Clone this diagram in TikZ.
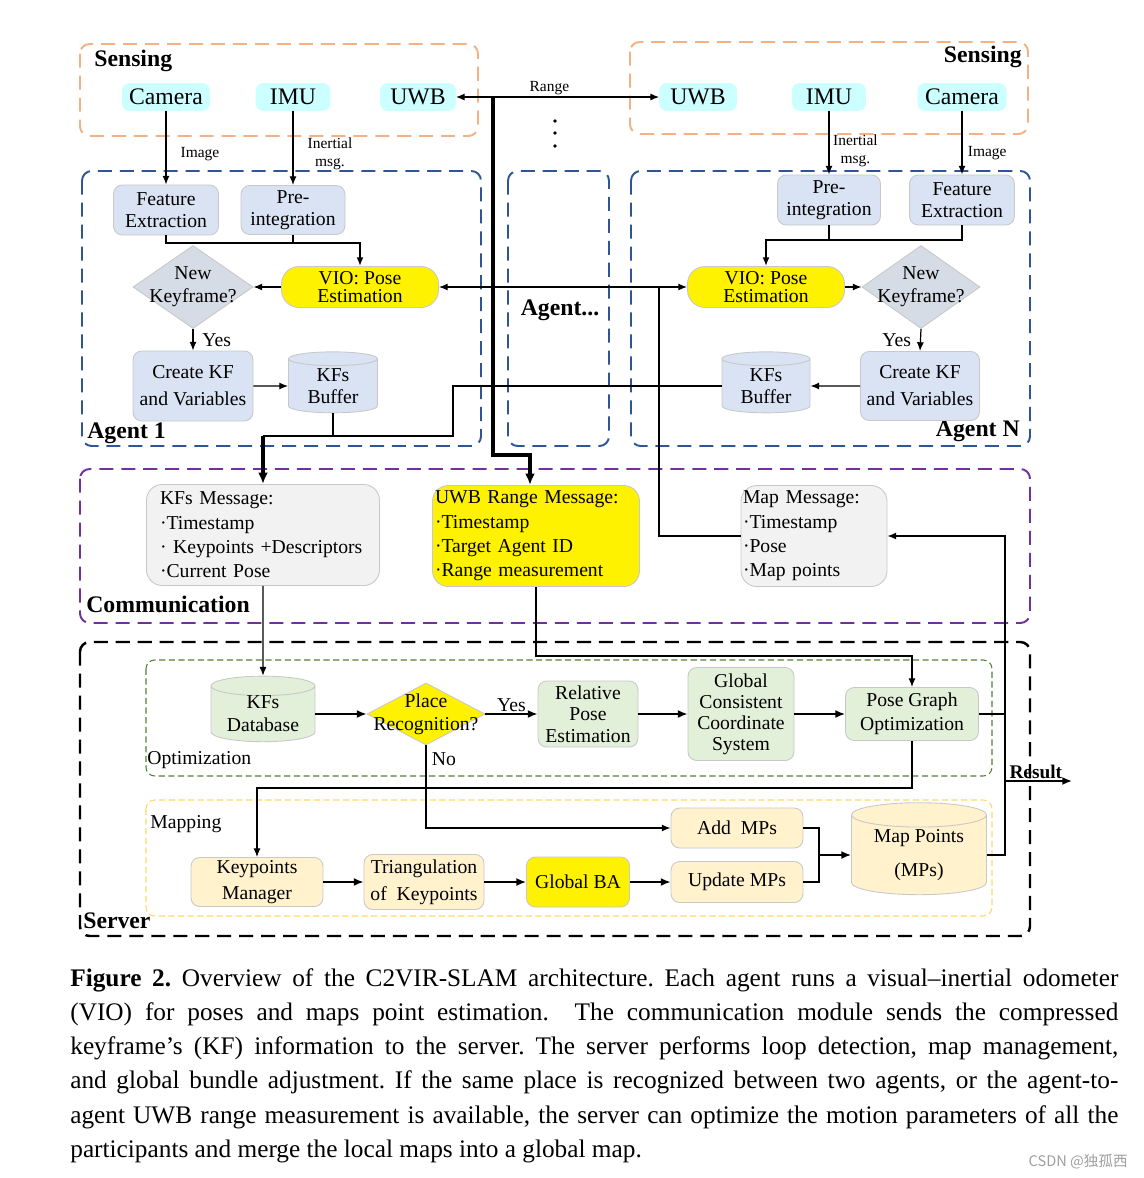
\documentclass[tikz,border=0pt]{standalone}
\usepackage{fontspec}
\setmainfont{Liberation Serif}
\newfontfamily\cjkfont{Noto Sans CJK SC}
\usetikzlibrary{shapes.geometric,arrows.meta,calc}
\definecolor{orangeD}{HTML}{F4B183}
\definecolor{blueD}{HTML}{2F5597}
\definecolor{purpleD}{HTML}{7030A0}
\definecolor{greenD}{HTML}{548235}
\definecolor{yellowD}{HTML}{FFD966}
\definecolor{cyanF}{HTML}{CCFFFF}
\definecolor{agF}{HTML}{DAE3F3}
\definecolor{diaF}{HTML}{D6DCE5}
\definecolor{msgF}{HTML}{F2F2F2}
\definecolor{grnF}{HTML}{E2F0D9}
\definecolor{mapF}{HTML}{FFF2CC}
\definecolor{bordG}{HTML}{C8C8C8}
\newcommand\pxu{0.02cm}
\newcommand\fsz[2]{\fontsize{#1}{#2}\selectfont}
\frenchspacing
\begin{document}
\begin{tikzpicture}[x=0.02cm, y=-0.02cm,
  grp/.style={rounded corners=5.5pt, line width=1.1pt, dash pattern=on 8pt off 4.5pt},
  sub/.style={rounded corners=5pt, line width=0.6pt, dash pattern=on 3.5pt off 2pt},
  sensor/.style={rounded corners=4pt, fill=cyanF, draw=cyanF, minimum height=27*\pxu, inner sep=0pt, font=\fsz{13.5}{15}},
  proc/.style={rounded corners=5pt, fill=agF, draw=bordG, line width=0.5pt, align=center, inner sep=0pt, font=\fsz{11.2}{12.5}},
  viob/.style={rounded corners=10pt, fill=yellow, draw=bordG, line width=0.5pt, align=center, inner sep=0pt, font=\fsz{11.2}{10.2}},
  dia/.style={diamond, fill=diaF, draw=bordG, line width=0.5pt, inner sep=0pt},
  dlab/.style={align=center, font=\fsz{11.2}{13}},
  cyl/.style={cylinder, shape border rotate=90, aspect=0.27, fill=agF, draw=bordG, line width=0.5pt, align=center, inner sep=0pt, font=\fsz{11.2}{12.5}},
  msg/.style={rounded corners=9pt, fill=msgF, draw=bordG, line width=0.5pt, align=left, inner sep=0pt, font=\fsz{11.2}{13.9}},
  grn/.style={proc, fill=grnF},
  mpn/.style={proc, fill=mapF},
  ttl/.style={font=\bfseries\fsz{13.5}{15}, inner sep=0pt},
  lab/.style={font=\fsz{8.8}{10.2}, inner sep=1pt},
  nlab/.style={font=\fsz{11.2}{13}, inner sep=1pt},
  ln/.style={line width=0.7pt},
  arr/.style={line width=0.7pt, -{Latex[length=5pt,width=4pt]}},
  sarr/.style={line width=0.9pt, -{Latex[length=5.5pt,width=4.5pt]}},
  dbl/.style={line width=0.7pt, {Latex[length=5pt,width=4pt]}-{Latex[length=5pt,width=4pt]}},
  mln/.style={line width=1.1pt},
  thk/.style={line width=1.8pt},
  thkarr/.style={line width=1.8pt, -{Latex[length=6.5pt,width=5.5pt]}}
]
\useasboundingbox (0,0) rectangle (1144,1178);
\fill[white] (0,0) rectangle (1144,1178);

% ---------- frames ----------
\draw[grp, draw=orangeD] (80,44) rectangle (478,136);
\draw[grp, draw=orangeD] (630,42) rectangle (1028,134);
\draw[grp, draw=blueD] (82,171) rectangle (481,446);
\draw[grp, draw=blueD] (508,171) rectangle (609,446);
\draw[grp, draw=blueD] (631,171) rectangle (1030,446);
\draw[grp, draw=purpleD] (80,469) rectangle (1030,623);
\draw[grp, draw=black, line width=1.4pt] (80,642) rectangle (1030,936);
\draw[sub, draw=greenD] (146,660) rectangle (992,776);
\draw[sub, draw=yellowD] (146,800) rectangle (992,916);

% ---------- titles ----------
\node[ttl, anchor=west] (tSensA) at (94,61) {Sensing};
\node[ttl, anchor=east] (tSensB) at (1022,57) {Sensing};
\node[ttl, anchor=west] (tAgA) at (87,433) {Agent 1};
\node[ttl, anchor=east] (tAgN) at (1020,431) {Agent N};
\node[ttl] (tAgD) at (560,310) {Agent...};
\node[ttl, anchor=west] (tComm) at (86,604) {Communication};
\node[ttl, anchor=west] (tServ) at (83,921) {Server};
\node[nlab, anchor=west, inner sep=0pt] (tOpt) at (147,760) {Optimization};
\node[nlab, anchor=west, inner sep=0pt] (tMap) at (150,824) {Mapping};
\foreach \yy in {121,133,146} \fill (555,\yy) circle[radius=1.8*\pxu];

% ---------- sensors ----------
\node[sensor, minimum width=87*\pxu] (cam1) at (166,97) {Camera};
\node[sensor, minimum width=74*\pxu] (imu1) at (293,97) {IMU};
\node[sensor, minimum width=75*\pxu] (uwb1) at (418,97) {UWB};
\node[sensor, minimum width=77*\pxu] (uwbN) at (698,97) {UWB};
\node[sensor, minimum width=73*\pxu] (imuN) at (829,97) {IMU};
\node[sensor, minimum width=88*\pxu] (camN) at (962,97) {Camera};

% ---------- agent 1 ----------
\node[proc, minimum width=105*\pxu, minimum height=50*\pxu] (fe1) at (166,210) {Feature\\Extraction};
\node[proc, minimum width=104*\pxu, minimum height=49*\pxu] (pi1) at (293,210) {Pre-\\integration};
\node[viob, minimum width=157*\pxu, minimum height=41*\pxu] (vio1) at (360,287) {VIO: Pose\\Estimation};
\node[dia, minimum width=120*\pxu, minimum height=83*\pxu, label={[dlab]center:{New\\Keyframe?}}] (nk1) at (193,287) {};
\node[proc, minimum width=120*\pxu, minimum height=70*\pxu, font=\fsz{11.2}{15.3}] (ckf1) at (193,386) {Create KF\\and Variables};
\node[cyl, minimum width=89*\pxu, minimum height=61*\pxu] (kfb1) at (333,386) {KFs\\Buffer};

% ---------- agent N ----------
\node[proc, minimum width=103*\pxu, minimum height=50*\pxu] (piN) at (829,200) {Pre-\\integration};
\node[proc, minimum width=105*\pxu, minimum height=50*\pxu] (feN) at (962,200) {Feature\\Extraction};
\node[viob, minimum width=157*\pxu, minimum height=41*\pxu] (vioN) at (766,287) {VIO: Pose\\Estimation};
\node[dia, minimum width=118*\pxu, minimum height=83*\pxu, label={[dlab]center:{New\\Keyframe?}}] (nkN) at (921,287) {};
\node[proc, minimum width=119*\pxu, minimum height=69*\pxu, font=\fsz{11.2}{15.3}] (ckfN) at (920,386) {Create KF\\and Variables};
\node[cyl, minimum width=88*\pxu, minimum height=61*\pxu] (kfbN) at (766,386) {KFs\\Buffer};

% ---------- communication ----------
\node[msg, minimum width=233*\pxu, minimum height=101*\pxu, text width=206*\pxu] (kfm) at (263,535) {KFs Message:\\·Timestamp\\· Keypoints +Descriptors\\·Current Pose};
\node[msg, fill=yellow, minimum width=207*\pxu, minimum height=101*\pxu, text width=202*\pxu] (uwbm) at (536,536) {UWB Range Message:\\·Timestamp\\·Target Agent ID\\·Range measurement};
\node[msg, minimum width=146*\pxu, minimum height=101*\pxu, text width=142*\pxu] (mapm) at (814,536) {Map Message:\\·Timestamp\\·Pose\\·Map points};

% ---------- server ----------
\node[cyl, fill=grnF, minimum width=104*\pxu, minimum height=65*\pxu, font=\fsz{11.2}{13}] (kfdb) at (263,714) {KFs\\Database};
\node[dia, fill=yellow, minimum width=118*\pxu, minimum height=62*\pxu, label={[dlab]center:{Place\\Recognition?}}] (pr) at (426,714) {};
\node[grn, minimum width=100*\pxu, minimum height=66*\pxu, font=\fsz{11.2}{12.2}] (rpe) at (588,714) {Relative\\Pose\\Estimation};
\node[grn, minimum width=106*\pxu, minimum height=93*\pxu, font=\fsz{11.2}{11.9}] (gccs) at (741,714) {Global\\Consistent\\Coordinate\\System};
\node[grn, minimum width=133*\pxu, minimum height=53*\pxu, font=\fsz{11.2}{13.6}] (pgo) at (912,714) {Pose Graph\\Optimization};
\node[mpn, minimum width=132*\pxu, minimum height=49*\pxu, font=\fsz{11.2}{14.7}] (kpm) at (257,882) {Keypoints\\Manager};
\node[mpn, minimum width=120*\pxu, minimum height=55*\pxu, font=\fsz{11.2}{15.3}] (tri) at (424,882) {Triangulation\\of~~Keypoints};
\node[mpn, fill=yellow, minimum width=103*\pxu, minimum height=50*\pxu] (gba) at (578,882) {Global BA};
\node[mpn, minimum width=132*\pxu, minimum height=40*\pxu] (add) at (737,828) {Add~~MPs};
\node[mpn, minimum width=132*\pxu, minimum height=41*\pxu] (upd) at (737,882) {Update MPs};
\node[cyl, fill=mapF, minimum width=135*\pxu, minimum height=92*\pxu, font=\fsz{11.2}{19.8}] (mp) at (919,855) {Map Points\\(MPs)};

% ---------- connectors: sensing ----------
\draw[arr] (cam1.south) -- (fe1.north) node[lab, pos=0.58, anchor=west, xshift=7pt] {Image};
\draw[arr] (imu1.south) -- (pi1.north) node[lab, pos=0.58, anchor=west, xshift=7pt, align=center] {Inertial\\msg.};
\draw[arr] (imuN.south) -- (piN.north) node[lab, pos=0.62, anchor=west, xshift=1pt, align=center] {Inertial\\msg.};
\draw[arr] (camN.south) -- (feN.north) node[lab, pos=0.67, anchor=west, xshift=2pt] {Image};

% ---------- connectors: agent 1 ----------
\coordinate (mA) at (360,243);
\draw[arr, mln] (fe1.south) -- (fe1.south |- mA) -- (mA) -- (vio1.north);
\draw[mln] (pi1.south) -- (pi1.south |- mA);
\draw[arr] (vio1.west) -- (nk1.east);
\draw[arr] (nk1.south) -- (ckf1.north) node[nlab, midway, anchor=west, xshift=4pt] {Yes};
\draw[arr] (ckf1.east) -- (kfb1.west);

% ---------- connectors: agent N ----------
\coordinate (mN) at (766,240);
\draw[arr, mln] (feN.south) -- (feN.south |- mN) -- (mN) -- (vioN.north);
\draw[mln] (piN.south) -- (piN.south |- mN);
\draw[arr] (vioN.east) -- (nkN.west);
\draw[arr] (nkN.south) -- (ckfN.north) node[nlab, midway, anchor=east, xshift=-4pt] {Yes};
\draw[arr] (ckfN.west) -- (kfbN.east);

% ---------- keyframe messages ----------
\coordinate (kA) at (263,436);
\coordinate (kB) at (453,436);
\draw[mln] (kfb1.south) -- (kfb1.south |- kA);
\draw[mln] (kfbN.west) -- (kB |- kfbN.west) -- (kB) -- (kA);
\draw[thkarr] (kA) -- (kfm.north);

% ---------- range ----------
\draw[dbl] (uwb1.east) -- (uwbN.west) node[lab, pos=0.46, above] {Range};
\coordinate (rA) at (493,97);
\coordinate (rB) at (493,455);
\draw[thkarr] (rA) -- (rB) -| ([xshift=-6*\pxu]uwbm.north);

% ---------- VIO / map message ----------
\draw[dbl] (vio1.east) -- (vioN.west);
\coordinate (vA) at (659,287);
\draw[ln] (mapm.west) -| (vA);

% ---------- server ----------
\draw[arr] (kfm.south) -- (kfdb.north);
\coordinate (uA) at (536,656);
\draw[arr] (uwbm.south) -- (uwbm.south |- uA) -| (pgo.north);
\draw[sarr] (kfdb.east |- pr.west) -- (pr.west);
\draw[sarr] (pr.east) -- (rpe.west) node[nlab, midway, above] {Yes};
\draw[sarr] (rpe.east) -- (gccs.west);
\draw[sarr] (gccs.east) -- (pgo.west);
\draw[arr] (pr.south) |- (add.west) node[nlab, pos=0.08, anchor=west, xshift=2pt] {No};
\coordinate (pA) at (912,788);
\draw[arr] (pgo.south) -- (pA) -| (kpm.north);
\draw[sarr] (kpm.east) -- (tri.west);
\draw[sarr] (tri.east) -- (gba.west);
\draw[sarr] (gba.east) -- (upd.west);
\coordinate (aA) at (819,855);
\draw[ln] (add.east) -| (aA);
\draw[ln] (upd.east) -| (aA);
\draw[sarr] (aA) -- (aA -| mp.west);
\coordinate (oA) at (1005,714);
\draw[ln] (pgo.east) -- (oA);
\draw[arr] (mp.east) -| (oA) |- (mapm.east);
\coordinate (resA) at (1005,781);
\coordinate (resB) at (1072,781);
\draw[sarr] (resA) -- (resB) node[pos=0.46, above, font=\bfseries\fsz{11}{12}, inner sep=1pt] {Result};

% ---------- caption ----------
\node[anchor=north west, text width=1048*\pxu, align=justify, inner sep=0pt, font=\fsz{14.4}{19.5}] (cap) at (70,968) {\textbf{Figure 2.} Overview of the C2VIR-SLAM architecture. Each agent runs a visual–inertial odometer\linebreak (VIO) for poses and maps point estimation.\ \ The communication module sends the compressed\linebreak keyframe’s (KF) information to the server. The server performs loop detection, map management,\linebreak and global bundle adjustment. If the same place is recognized between two agents, or the agent-to-\linebreak agent UWB range measurement is available, the server can optimize the motion parameters of all the\linebreak participants and merge the local maps into a global map.};
\node[font=\cjkfont\fsz{8.3}{9}, text=gray!75, anchor=east, inner sep=0pt] (wm) at (1128,1162) {CSDN @独孤西};
\end{tikzpicture}
\end{document}
